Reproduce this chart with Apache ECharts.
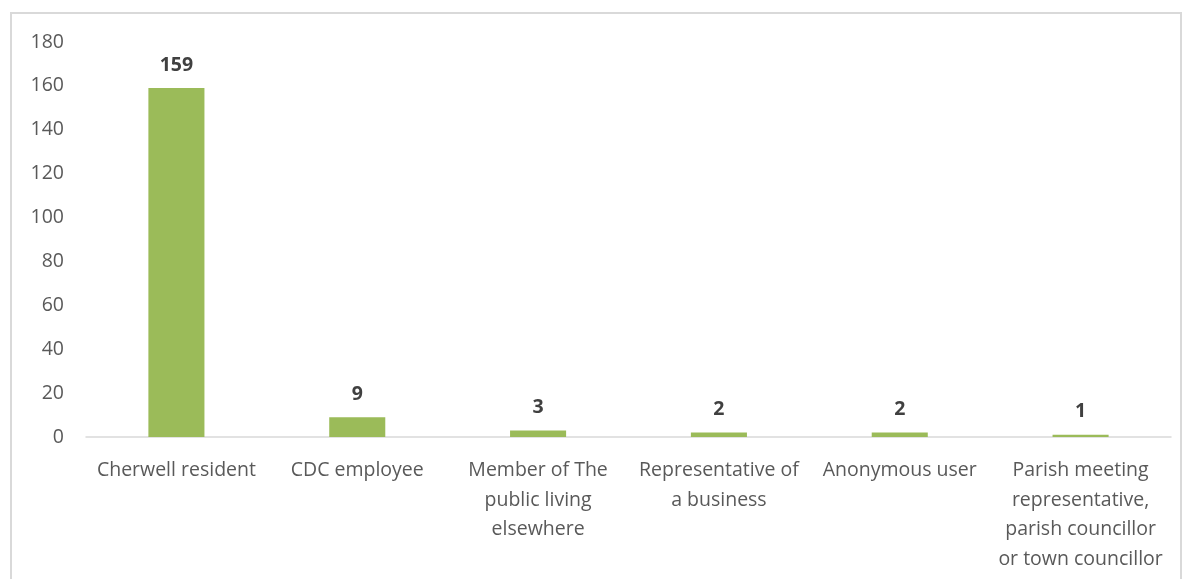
<!DOCTYPE html>
<html>
<head>
<meta charset="utf-8">
<script src="https://cdn.jsdelivr.net/npm/echarts@6/dist/echarts.min.js"></script>
<style>
  html, body { margin: 0; padding: 0; background: #fff; }
  #frame { position: absolute; left: 10px; top: 12px; width: 1172px; height: 580px;
           border: 2px solid #d9d9d9; border-bottom: none; box-sizing: border-box; }
  #chart { position: absolute; left: 0; top: 0; width: 1184px; height: 579px; }
</style>
</head>
<body>
<div id="frame"></div>
<div id="chart"></div>
<script>
// Respondent types and counts
const categories = [
  'Cherwell resident',
  'CDC employee',
  'Member of The\npublic living\nelsewhere',
  'Representative of\na business',
  'Anonymous user',
  'Parish meeting\nrepresentative,\nparish councillor\nor town councillor'
];
const counts = [159, 9, 3, 2, 2, 1];
const yTicks = [0, 20, 40, 60, 80, 100, 120, 140, 160, 180];

const chart = echarts.init(document.getElementById('chart'), null, { renderer: 'canvas' });
const font = "'Open Sans', 'Noto Sans', sans-serif";

chart.setOption({
  animation: false,
  grid: { left: 86, right: 13, top: 42, bottom: 142, containLabel: false },
  xAxis: {
    type: 'category',
    data: categories,
    axisLine: { show: true, lineStyle: { color: '#d9d9d9', width: 1.5 } },
    axisTick: { show: false },
    axisLabel: {
      interval: 0,
      color: '#595959',
      fontFamily: font,
      fontSize: 19.5,
      lineHeight: 29.5,
      margin: 19
    }
  },
  yAxis: {
    type: 'value',
    min: yTicks[0],
    max: yTicks[yTicks.length - 1],
    interval: yTicks[1] - yTicks[0],
    axisLine: { show: false },
    axisTick: { show: false },
    splitLine: { show: false },
    axisLabel: {
      color: '#595959',
      fontFamily: font,
      fontSize: 19.5,
      margin: 22
    }
  },
  series: [{
    type: 'bar',
    data: counts,
    barWidth: '31%',
    itemStyle: { color: '#9bbb59' },
    label: {
      show: true,
      position: 'top',
      distance: 13,
      color: '#404040',
      fontFamily: font,
      fontWeight: 'bold',
      fontSize: 19.5
    }
  }]
});
</script>
</body>
</html>
